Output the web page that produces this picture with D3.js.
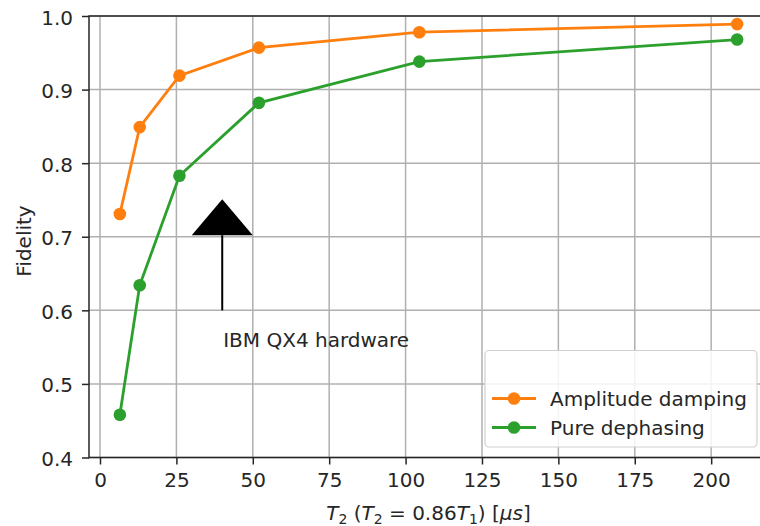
<!DOCTYPE html>
<html>
<head>
<meta charset="utf-8">
<script src="https://cdn.jsdelivr.net/npm/d3@7"></script>
<style>
  html, body { margin: 0; padding: 0; background: #fff; }
  svg { display: block; }
  text { font-family: "DejaVu Sans", sans-serif; fill: #262626; }
</style>
</head>
<body>
<svg id="chart" width="760" height="526"></svg>
<script>
// ---- data ----
const t2Values = [6.5, 13, 26, 52, 104.5, 208.5];
const amplitudeDamping = [0.731, 0.849, 0.919, 0.957, 0.978, 0.989];
const pureDephasing = [0.458, 0.634, 0.783, 0.882, 0.938, 0.968];
const seriesNames = ["Amplitude damping", "Pure dephasing"];
const xTicks = [0, 25, 50, 75, 100, 125, 150, 175, 200];
const yTicks = [0.4, 0.5, 0.6, 0.7, 0.8, 0.9, 1.0];
const annotationText = "IBM QX4 hardware";
const arrowX = 40, arrowTail = 0.6, arrowTip = 0.751, annotationTextY = 0.55;

// ---- layout ----
const svg = d3.select("#chart");
const pL = 89, pR = 768, pT = 16, pB = 457.5;
const fontSize = 20;
const colors = ["#ff7f0e", "#2ca02c"];

const x = d3.scaleLinear().domain([-3.6, 218.6]).range([pL, pR]);
const y = d3.scaleLinear().domain([0.4, 1.0]).range([pB, pT]);

// grid
const grid = svg.append("g");
grid.selectAll("line.vx").data(xTicks).enter().append("line")
  .attr("x1", d => x(d)).attr("x2", d => x(d)).attr("y1", pT).attr("y2", pB)
  .attr("stroke", "#b0b0b0").attr("stroke-width", 1.5);
grid.selectAll("line.hy").data(yTicks).enter().append("line")
  .attr("x1", pL).attr("x2", pR).attr("y1", d => y(d)).attr("y2", d => y(d))
  .attr("stroke", "#b0b0b0").attr("stroke-width", 1.5);

// axes
const xAxis = svg.append("g").attr("transform", `translate(0,${pB})`)
  .call(d3.axisBottom(x).tickValues(xTicks).tickFormat(d3.format("d")).tickSizeInner(7).tickSizeOuter(0).tickPadding(8.5));
const yAxis = svg.append("g").attr("transform", `translate(${pL},0)`)
  .call(d3.axisLeft(y).tickValues(yTicks).tickFormat(d3.format(".1f")).tickSizeInner(7).tickSizeOuter(0).tickPadding(9));
[xAxis, yAxis].forEach(a => {
  a.select(".domain").remove();
  a.selectAll(".tick line").attr("stroke", "#262626").attr("stroke-width", 1.5);
  a.selectAll(".tick text").attr("font-size", fontSize).attr("font-family", "DejaVu Sans").attr("fill", "#262626");
});
yAxis.selectAll(".tick text").attr("dy", "0.4em");

// spines
svg.append("rect").attr("x", pL).attr("y", pT).attr("width", pR - pL).attr("height", pB - pT)
  .attr("fill", "none").attr("stroke", "#262626").attr("stroke-width", 1.5);

// series
const allSeries = [amplitudeDamping, pureDephasing];
const line = d3.line().x(d => x(d[0])).y(d => y(d[1]));
allSeries.forEach((vals, i) => {
  const pts = t2Values.map((t, j) => [t, vals[j]]);
  svg.append("path").datum(pts).attr("d", line)
    .attr("fill", "none").attr("stroke", colors[i]).attr("stroke-width", 2.8);
  svg.selectAll(null).data(pts).enter().append("circle")
    .attr("cx", d => x(d[0])).attr("cy", d => y(d[1])).attr("r", 6.3).attr("fill", colors[i]);
});

// annotation arrow
const headLen = 36, headHalf = 30.5;
const tipY = y(arrowTip), baseY = tipY + headLen;
svg.append("line").attr("x1", x(arrowX)).attr("x2", x(arrowX))
  .attr("y1", y(arrowTail)).attr("y2", baseY).attr("stroke", "#000").attr("stroke-width", 2);
svg.append("path")
  .attr("d", `M${x(arrowX)},${tipY} L${x(arrowX) - headHalf},${baseY} L${x(arrowX) + headHalf},${baseY} Z`)
  .attr("fill", "#000");
svg.append("text").attr("x", x(arrowX) + 1).attr("y", y(annotationTextY))
  .attr("font-size", fontSize).text(annotationText);

// legend
const lg = svg.append("g");
lg.append("rect").attr("x", 485).attr("y", 350.5).attr("width", 272).attr("height", 96.5)
  .attr("rx", 4).attr("fill", "#fff").attr("fill-opacity", 0.85)
  .attr("stroke", "#d0d0d0").attr("stroke-width", 1.2);
seriesNames.forEach((name, i) => {
  const ly = 398.5 + i * 29;
  lg.append("line").attr("x1", 492).attr("x2", 536).attr("y1", ly).attr("y2", ly)
    .attr("stroke", colors[i]).attr("stroke-width", 2.8);
  lg.append("circle").attr("cx", 514).attr("cy", ly).attr("r", 6.3).attr("fill", colors[i]);
  lg.append("text").attr("x", 550).attr("y", ly + 7.5).attr("font-size", fontSize).text(name);
});

// axis labels
const xl = svg.append("text").attr("x", (pL + pR) / 2).attr("y", 520)
  .attr("text-anchor", "middle").attr("font-size", fontSize);
xl.append("tspan").attr("font-style", "italic").text("T");
xl.append("tspan").attr("font-size", fontSize * 0.7).attr("dy", 4).text("2");
xl.append("tspan").attr("dy", -4).text(" (");
xl.append("tspan").attr("font-style", "italic").text("T");
xl.append("tspan").attr("font-size", fontSize * 0.7).attr("dy", 4).text("2");
xl.append("tspan").attr("dy", -4).text(" = 0.86");
xl.append("tspan").attr("font-style", "italic").text("T");
xl.append("tspan").attr("font-size", fontSize * 0.7).attr("dy", 4).text("1");
xl.append("tspan").attr("dy", -4).text(") [");
xl.append("tspan").attr("font-style", "italic").text("μs");
xl.append("tspan").text("]");

svg.append("text").attr("transform", "translate(31,241) rotate(-90)")
  .attr("text-anchor", "middle").attr("font-size", fontSize).text("Fidelity");
</script>
</body>
</html>
